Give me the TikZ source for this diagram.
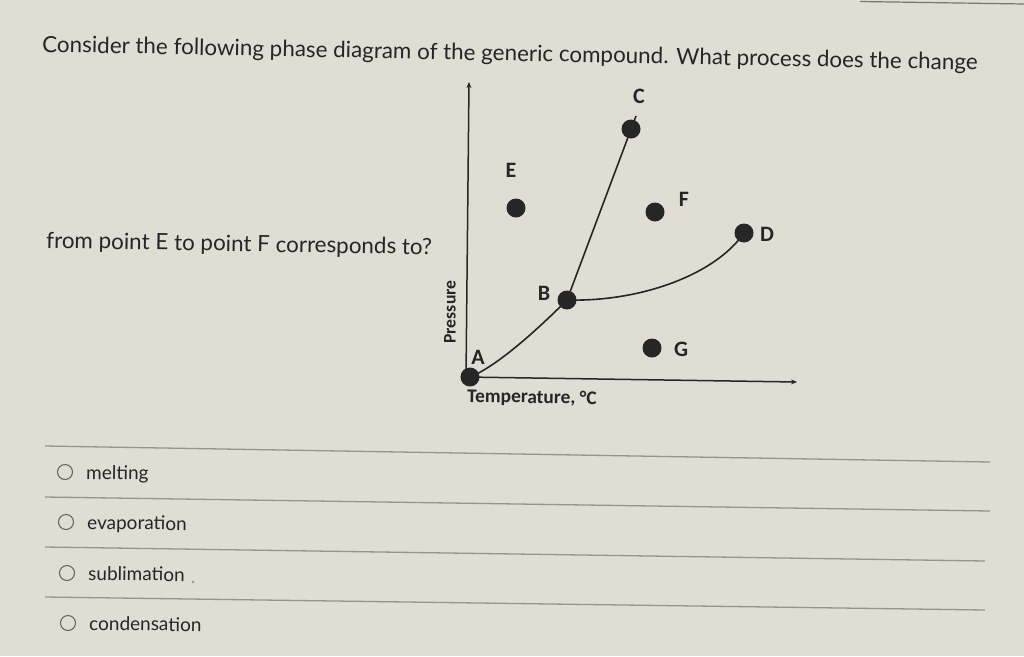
\documentclass[tikz,border=0pt]{standalone}
\usepackage{fontspec}
\setmainfont{Lato}
\newfontfamily\graphfont{Carlito}
\usepackage{xcolor}
\usetikzlibrary{arrows.meta,calc}

\definecolor{paper}{RGB}{224,221,213}
\definecolor{ink}{RGB}{38,38,38}
\definecolor{rule}{RGB}{150,148,142}

\tikzset{
    phasedot/.style={circle, fill=ink, inner sep=0pt, minimum size=19pt},
    lbl/.style={font=\graphfont\bfseries\fontsize{22}{24}\selectfont, text=ink, inner sep=0pt},
    qtext/.style={font=\fontsize{22.4}{25}\selectfont, text=ink, inner sep=0pt, anchor=base west},
    opt/.style={font=\fontsize{19}{22}\selectfont, text=ink, inner sep=0pt, anchor=base west, rotate=-0.8},
    radio/.style={circle, draw=rule!70!black, line width=1.1pt, inner sep=0pt, minimum size=15pt}
}

\begin{document}
\begin{tikzpicture}[x=1pt, y=-1pt]
    \fill[paper] (0,0) rectangle (1024,656); % screen
    \useasboundingbox (0,0) rectangle (1024,656);
    \draw[rule!80!black, line width=1.2pt] (860,1.5) -- (1024,4); % screen edge

    % question
    \node[qtext, rotate=-1.1] (title) at (42,52) {Consider the following phase diagram of the generic compound. What process does the change};
    \node[qtext, rotate=-1] (ask) at (46,248) {from point E to point F corresponds to?};

    % axes
    \coordinate (origin) at (466,377);
    \coordinate (ytop) at (469,82);
    \coordinate (xend) at (797,382);
    \draw[ink, line width=1.5pt, -{Stealth[length=6pt,width=5pt]}] (origin) -- (ytop);
    \draw[ink, line width=1.5pt, -{Stealth[length=6pt,width=5pt]}] (origin) -- (xend);
    \node[lbl, font=\graphfont\bfseries\fontsize{17.7}{20}\selectfont, rotate=90] (pres) at (450,312) {Pressure};
    \node[lbl, font=\graphfont\bfseries\fontsize{19.4}{21}\selectfont, rotate=-1] (temp) at (532,398) {Temperature, \textdegree C};

    % points
    \node[phasedot] (A) at (470,377) {};
    \node[phasedot] (B) at (567,300) {};
    \node[phasedot] (C) at (631,129) {};
    \node[phasedot] (D) at (744,233) {};
    \node[phasedot] (E) at (516,208) {};
    \node[phasedot] (F) at (655,212) {};
    \node[phasedot] (G) at (652,348) {};
    \coordinate (Ctip) at (636,116);

    % phase boundaries
    \draw[ink, line width=1.6pt] (A.center) .. controls (500,365) and (545,322) .. (B.center);
    \draw[ink, line width=1.6pt] (B.center) .. controls (640,302) and (715,275) .. (D.center);
    \draw[ink, line width=1.6pt] (B.center) -- (Ctip);

    % labels
    \node[lbl] (lA) at (478,357) {A};
    \node[lbl] (lB) at (544,293) {B};
    \node[lbl] (lC) at (639,96) {C};
    \node[lbl] (lD) at (767,234) {D};
    \node[lbl] (lE) at (511,170) {E};
    \node[lbl] (lF) at (684,199) {F};
    \node[lbl] (lG) at (681,349) {G};

    % answer rows
    \draw[rule, line width=1.3pt] (45,446) -- (990,462);
    \draw[rule, line width=1.3pt] (45,497) -- (990,511);
    \draw[rule, line width=1.3pt] (45,547) -- (985,561);
    \draw[rule, line width=1.3pt] (45,597) -- (985,610);

    \node[radio] (r1) at (65,472) {};
    \node[radio] (r2) at (66,522) {};
    \node[radio] (r3) at (67,573) {};
    \node[radio] (r4) at (68,623) {};
    \node[opt] (o1) at (86,479) {melting};
    \node[opt] (o2) at (87,529) {evaporation};
    \node[opt] (o3) at (88,580) {sublimation};
    \node[opt] (o4) at (89,630) {condensation};
    \fill[rule] (193,582) circle (1.3); % speck
\end{tikzpicture}
\end{document}
